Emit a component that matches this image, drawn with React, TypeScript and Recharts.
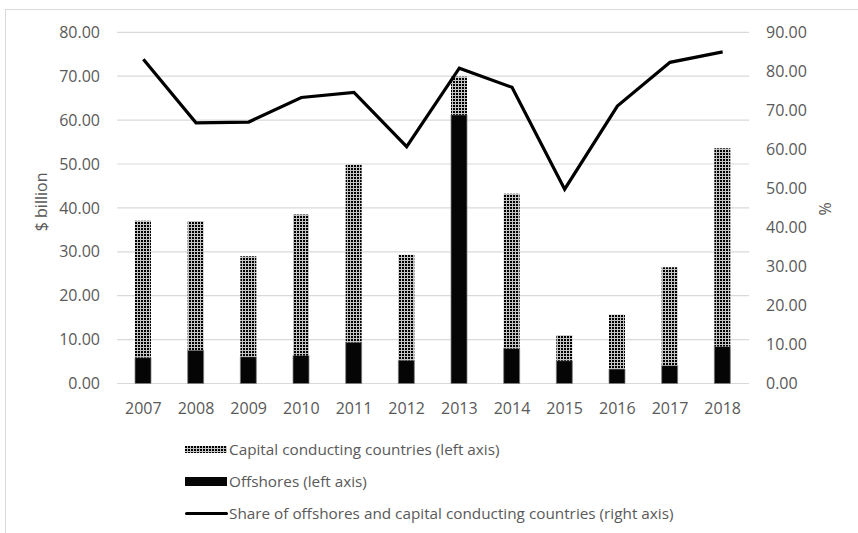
import { ComposedChart, Bar, Line, XAxis, YAxis, CartesianGrid, Label } from "recharts";

const years = ["2007", "2008", "2009", "2010", "2011", "2012", "2013", "2014", "2015", "2016", "2017", "2018"];
const offshores = [5.9, 7.6, 6.1, 6.4, 9.4, 5.3, 61.2, 8.0, 5.2, 3.3, 4.1, 8.4];
const capital = [31.2, 29.4, 22.9, 32.1, 40.5, 24.0, 8.7, 35.2, 5.8, 12.4, 22.4, 45.2];
const share = [83.1, 66.8, 67.0, 73.3, 74.6, 60.7, 80.8, 75.9, 49.8, 71.1, 82.3, 85.0];
const leftTicks = [0, 10, 20, 30, 40, 50, 60, 70, 80];
const rightTicks = [0, 10, 20, 30, 40, 50, 60, 70, 80, 90];

const FONT = "'Open Sans', sans-serif";
const TXT = "#595959";
const GRID = "#d9d9d9";

const data = years.map((y, i) => ({
  year: y,
  offshores: offshores[i],
  capital: capital[i],
  share: share[i],
}));

const fmt2 = (v: number) => v.toFixed(2);

function DotSwatch() {
  return (
    <svg width={42} height={7} style={{ display: "block" }}>
      <defs>
        <pattern id="dotsLegend" width={3} height={3} patternUnits="userSpaceOnUse">
          <rect width={3} height={3} fill="#c4c4c4" />
          <rect width={2} height={2} fill="#000" />
        </pattern>
      </defs>
      <rect width={42} height={7} fill="url(#dotsLegend)" />
    </svg>
  );
}

function ChartLegend() {
  const row = { display: "flex", alignItems: "center", height: 32, fontSize: 15.3, color: TXT, fontFamily: FONT };
  return (
    <div style={{ position: "absolute", left: 185, top: 433 }}>
      <div style={row}>
        <DotSwatch />
        <span style={{ marginLeft: 2 }}>Capital conducting countries (left axis)</span>
      </div>
      <div style={row}>
        <div style={{ width: 42, height: 9, background: "#050505" }} />
        <span style={{ marginLeft: 2 }}>Offshores (left axis)</span>
      </div>
      <div style={row}>
        <div style={{ width: 43, height: 3, background: "#000", borderRadius: 2 }} />
        <span style={{ marginLeft: 1 }}>Share of offshores and capital conducting countries (right axis)</span>
      </div>
    </div>
  );
}

export default function App() {
  return (
    <div style={{ position: "fixed", left: 0, top: 0, width: 858, height: 533, background: "#fff", overflow: "hidden" }}>
      {/* chart frame */}
      <div style={{ position: "absolute", left: 5, top: 9, width: 900, height: 600, borderLeft: `1px solid ${GRID}`, borderTop: `1px solid ${GRID}` }} />
      <div style={{ position: "absolute", left: 0, top: 0 }}>
        <ComposedChart
          width={858}
          height={533}
          data={data}
          margin={{ top: 32.3, right: 0, left: 0, bottom: 119.5 }}
          barSize={16}
        >
          <defs>
            <pattern id="dots" width={3} height={3} patternUnits="userSpaceOnUse">
              <rect width={3} height={3} fill="#c4c4c4" />
              <rect width={2} height={2} fill="#000" />
            </pattern>
          </defs>
          <CartesianGrid vertical={false} stroke={GRID} strokeWidth={1.2} yAxisId="left" />
          <XAxis
            dataKey="year"
            height={30}
            axisLine={false}
            tickLine={false}
            tickSize={0}
            tickMargin={19}
            tick={{ fill: TXT, fontSize: 16, fontFamily: FONT }}
          />
          <YAxis
            yAxisId="left"
            orientation="left"
            width={117}
            domain={[0, 80]}
            ticks={leftTicks}
            tickFormatter={fmt2}
            axisLine={false}
            tickLine={false}
            tickSize={0}
            tickMargin={17}
            tick={{ fill: TXT, fontSize: 16, fontFamily: FONT }}
          >
            <Label
              content={({ viewBox }: any) => {
                const cx = viewBox.x + 41;
                const cy = viewBox.y + viewBox.height / 2 - 6;
                return (
                  <text
                    x={cx}
                    y={cy}
                    transform={`rotate(-90 ${cx} ${cy})`}
                    textAnchor="middle"
                    dominantBaseline="central"
                    fill={TXT}
                    fontSize={16}
                    fontFamily={FONT}
                  >
                    $ billion
                  </text>
                );
              }}
            />
          </YAxis>
          <YAxis
            yAxisId="right"
            orientation="right"
            width={109}
            domain={[0, 90]}
            ticks={rightTicks}
            tickFormatter={fmt2}
            axisLine={false}
            tickLine={false}
            tickSize={0}
            tickMargin={17}
            tick={{ fill: TXT, fontSize: 16, fontFamily: FONT, textAnchor: "start" }}
          >
            <Label
              content={({ viewBox }: any) => {
                const cx = viewBox.x + 76;
                const cy = viewBox.y + viewBox.height / 2 + 1;
                return (
                  <text
                    x={cx}
                    y={cy}
                    transform={`rotate(-90 ${cx} ${cy})`}
                    textAnchor="middle"
                    dominantBaseline="central"
                    fill={TXT}
                    fontSize={16}
                    fontFamily={FONT}
                  >
                    %
                  </text>
                );
              }}
            />
          </YAxis>
          <Bar
            dataKey="offshores"
            stackId="a"
            yAxisId="left"
            fill="#050505"
            stroke="#808080"
            strokeWidth={0.75}
            isAnimationActive={false}
          />
          <Bar dataKey="capital" stackId="a" yAxisId="left" fill="url(#dots)" isAnimationActive={false} />
          <Line
            dataKey="share"
            yAxisId="right"
            type="linear"
            stroke="#000"
            strokeWidth={3.2}
            dot={false}
            activeDot={false}
            isAnimationActive={false}
          />
        </ComposedChart>
      </div>
      <ChartLegend />
    </div>
  );
}
